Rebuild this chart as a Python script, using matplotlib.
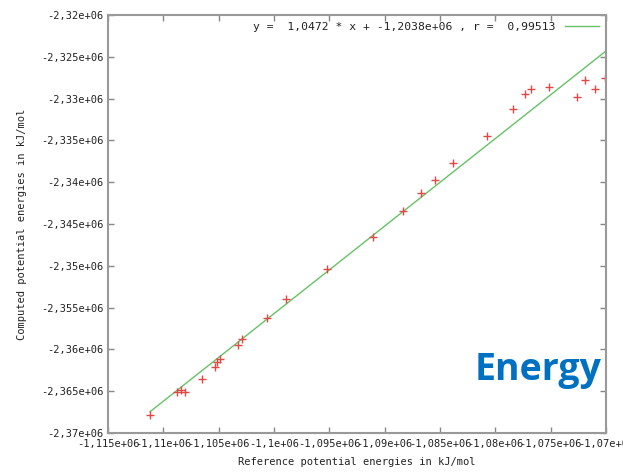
import matplotlib
matplotlib.use('Agg')
import matplotlib.pyplot as plt
from matplotlib.ticker import FuncFormatter, MultipleLocator
import numpy as np

# reference energies (x) and computed energies (y), kJ/mol
ref_e = np.array([-1.111205e6, -1.108765e6, -1.108404e6, -1.108042e6, -1.106506e6,
                  -1.105331e6, -1.105151e6, -1.104880e6, -1.103253e6, -1.102892e6,
                  -1.100633e6, -1.098916e6, -1.095211e6, -1.091055e6, -1.088344e6,
                  -1.086717e6, -1.085452e6, -1.083826e6, -1.080754e6, -1.078404e6,
                  -1.077320e6, -1.076778e6, -1.075151e6, -1.072621e6, -1.071898e6,
                  -1.070995e6, -1.070091e6])
comp_e = np.array([-2.367847e6, -2.365097e6, -2.364858e6, -2.365097e6, -2.363542e6,
                   -2.362106e6, -2.361508e6, -2.361149e6, -2.359475e6, -2.358757e6,
                   -2.356245e6, -2.353972e6, -2.350383e6, -2.346556e6, -2.343446e6,
                   -2.341292e6, -2.339737e6, -2.337704e6, -2.334474e6, -2.331244e6,
                   -2.329450e6, -2.328852e6, -2.328613e6, -2.329809e6, -2.327775e6,
                   -2.328852e6, -2.327536e6])

# fit given in the legend
slope = 1.0472
intercept = -1.2038e6
r_val = '0,99513'

xlim = (-1.115e6, -1.07e6)
ylim = (-2.37e6, -2.32e6)

def gp_fmt(v, pos):
    return f"{v:g}".replace('.', ',')

fig = plt.figure(figsize=(6.23, 4.72), dpi=100)
ax = fig.add_axes([0.1734, 0.0826, 0.7993, 0.8856])

fx = np.array([ref_e.min(), xlim[1]])
ax.plot(fx, slope * fx + intercept, color='#66c266', lw=1.0,
        label=f"y =  1,0472 * x + -1,2038e+06 , r =  {r_val}")
ax.plot(ref_e, comp_e, ls='none', marker='+', ms=5.5, mew=1.0, color='#e04848')

ax.set_xlim(*xlim)
ax.set_ylim(*ylim)
ax.xaxis.set_major_locator(MultipleLocator(5000))
ax.yaxis.set_major_locator(MultipleLocator(5000))
ax.xaxis.set_major_formatter(FuncFormatter(gp_fmt))
ax.yaxis.set_major_formatter(FuncFormatter(gp_fmt))

mono = 'DejaVu Sans Mono'
ax.tick_params(direction='in', length=4, width=1, color='#888888',
               top=True, right=True, labelsize=7.5, labelcolor='#222222', pad=4)
ax.tick_params(axis='y', pad=3)
for lab in ax.get_xticklabels() + ax.get_yticklabels():
    lab.set_family(mono)
for s in ax.spines.values():
    s.set_color('#999999')
    s.set_linewidth(1.5)

ax.set_xlabel('Reference potential energies in kJ/mol', family=mono, fontsize=7.5,
              color='#222222', labelpad=6)
ax.set_ylabel('Computed potential energies in kJ/mol', family=mono, fontsize=7.5,
              color='#222222', labelpad=10)

leg = ax.legend(loc='upper right', frameon=False, markerfirst=False, handlelength=3.0,
                handletextpad=0.8, prop={'family': mono, 'size': 8.2},
                borderaxespad=0.2)
for t in leg.get_texts():
    t.set_color('#222222')

fig.text(602 / 623, 1 - 380 / 472, 'Energy', ha='right', va='baseline',
         family='Open Sans', weight='bold', fontsize=27, color='#0070c0')

fig.savefig('out.png', dpi=100)
